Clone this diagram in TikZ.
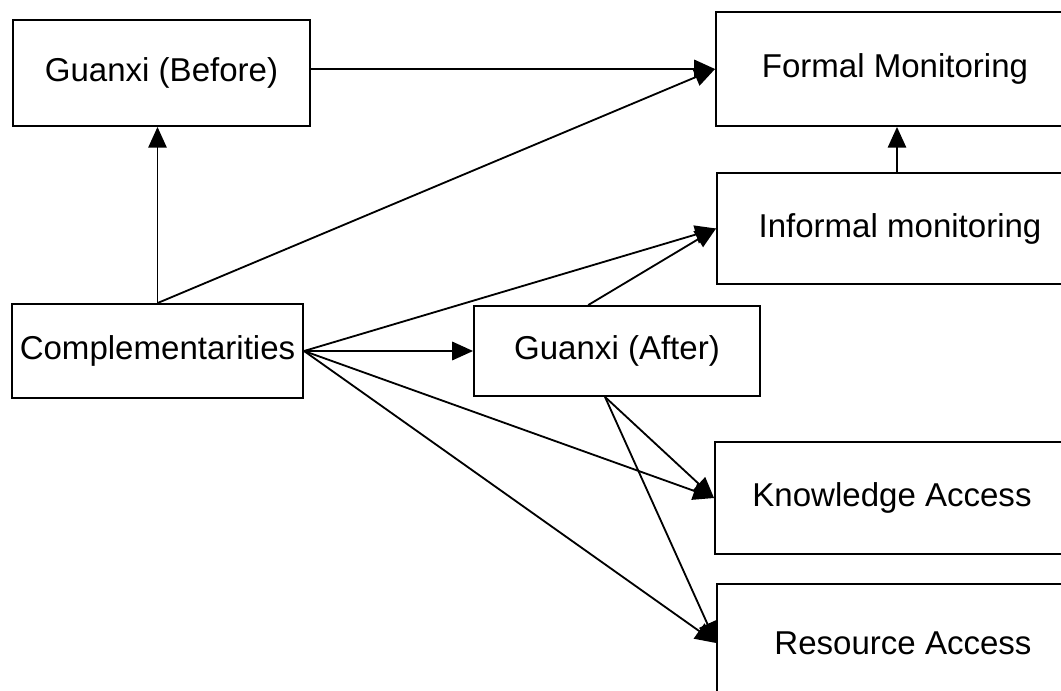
\documentclass[tikz,border=0pt]{standalone}
\usepackage{fontspec}
\setmainfont{Liberation Sans}
\usepackage{tikz}
\usetikzlibrary{arrows.meta, positioning}

\begin{document}
\begin{tikzpicture}[x=0.025cm, y=-0.025cm,
    font=\fontsize{23.5}{28}\selectfont,
    box/.style={rectangle, draw, line width=1.3pt, inner sep=2pt, align=center},
    arr/.style={line width=1.3pt, -{Triangle[length=0.52cm, width=0.46cm]}}]
  \useasboundingbox (0,0) rectangle (1061,691);
  \clip (0,0) rectangle (1061,691);
  % left column
  \node[box, minimum width=7.43cm, minimum height=2.65cm] (gbefore) at (161.5,73) {Guanxi (Before)};
  \node[box, minimum width=7.28cm, minimum height=2.35cm] (compl) at (157.5,351) {Complementarities};
  \node[box, minimum width=7.15cm, minimum height=2.25cm] (gafter) at (617,351) {Guanxi (After)};
  % right column (runs off the page)
  \node[box, minimum width=8.95cm, minimum height=2.85cm] (formal) at (895,69) {Formal Monitoring};
  \node[box, minimum width=9.15cm, minimum height=2.78cm] (informal) at (900,228.5) {Informal monitoring};
  \node[box, minimum width=8.85cm, minimum height=2.8cm] (know) at (892,498) {Knowledge Access};
  \node[box, minimum width=9.3cm, minimum height=2.95cm] (resource) at (903,643) {Resource Access};

  \draw[arr] (gbefore.east |- formal.west) -- (formal.west);
  \draw[arr] (compl.north) -- (compl.north |- gbefore.south);
  \draw[arr] (compl.north) -- (formal.west);
  \draw[arr] (informal.north -| formal.south) ++(2,0) coordinate (up) -- (up |- formal.south);
  \draw[arr] (compl.east) -- (informal.west);
  \draw[arr] (compl.east) -- (gafter.west);
  \draw[arr] (compl.east) -- (know.west);
  \draw[arr] (compl.east) -- (resource.west);
  \draw[arr] ([xshift=-0.72cm]gafter.north) -- (informal.west);
  \draw[arr] ([xshift=-0.3cm]gafter.south) -- (know.west);
  \draw[arr] ([xshift=-0.3cm]gafter.south) -- (resource.west);
\end{tikzpicture}
\end{document}
